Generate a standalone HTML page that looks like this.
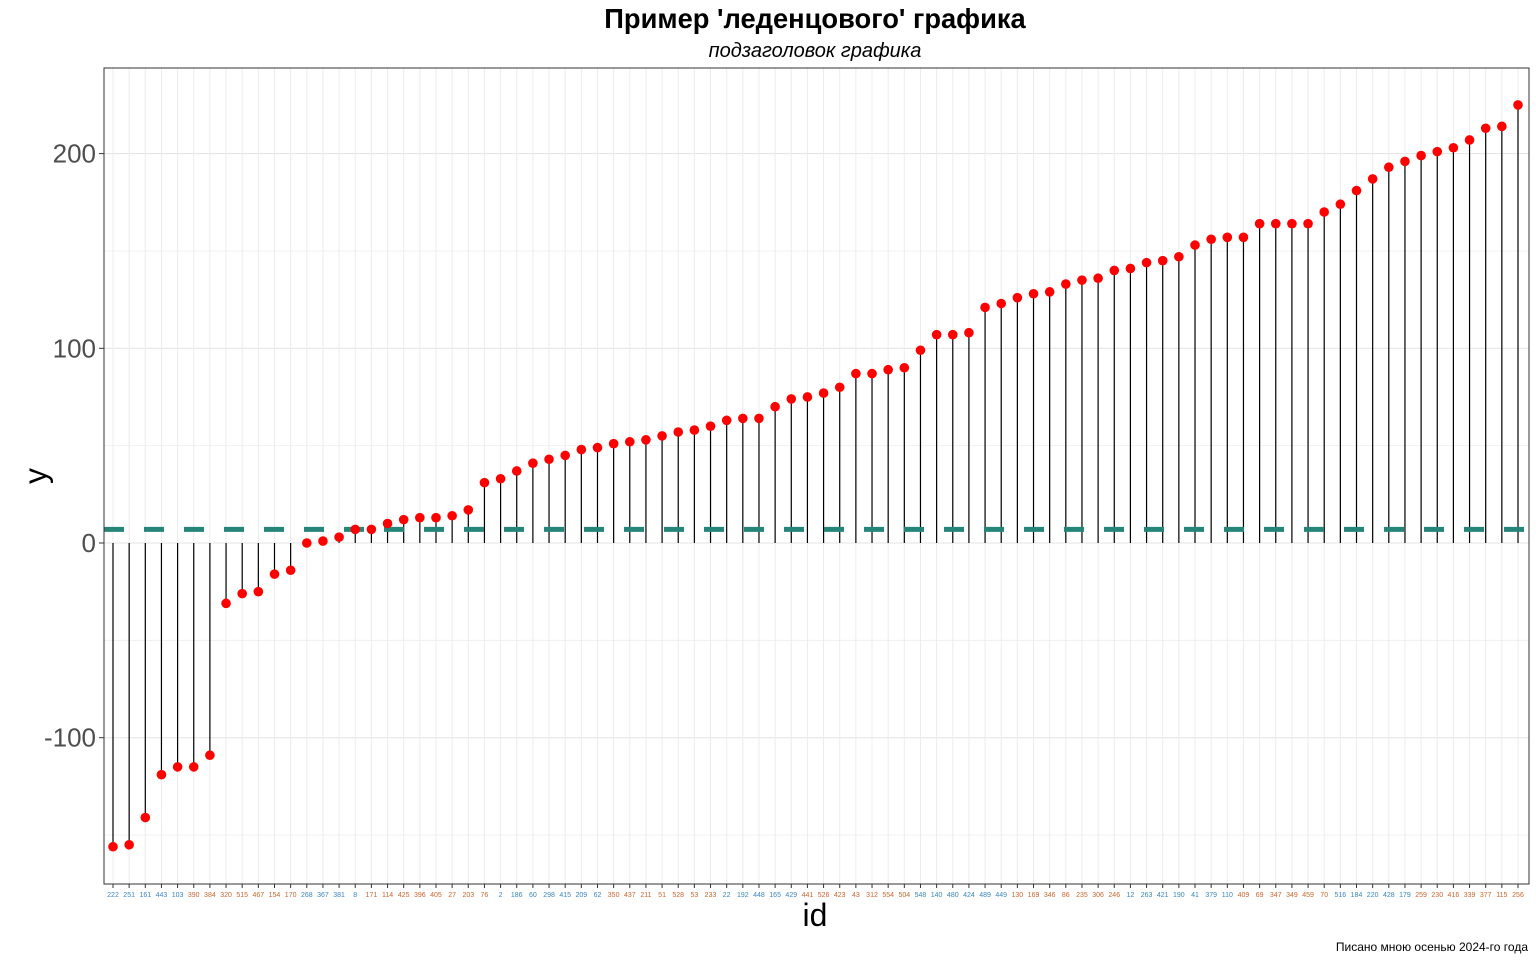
<!DOCTYPE html>
<html><head><meta charset="utf-8"><style>
body{margin:0;background:#fff;font-family:"Liberation Sans",sans-serif}
</style></head><body>
<svg id="chart" width="1536" height="960" xmlns="http://www.w3.org/2000/svg" font-family="Liberation Sans, DejaVu Sans, sans-serif">
<text x="815" y="28" text-anchor="middle" font-size="27.3" font-weight="bold">Пример 'леденцового' графика</text>
<text x="815" y="57" text-anchor="middle" font-size="20" font-style="italic">подзаголовок графика</text>
<g id="grid"></g><g id="marks"></g><g id="xticks"></g>
<rect x="104" y="68" width="1425" height="816" fill="none" stroke="#333" stroke-width="1"/>
<text x="38" y="476" text-anchor="middle" font-size="32" transform="rotate(-90 38 476)" dominant-baseline="middle">y</text>
<text x="815" y="926" text-anchor="middle" font-size="32">id</text>
<text x="1528" y="951" text-anchor="end" font-size="12">Писано мною осенью 2024-го года</text>
</svg>
<script>
const ids=[222,251,161,443,103,390,384,320,515,467,154,170,268,367,381,8,171,114,425,396,405,27,203,76,2,186,60,298,415,209,62,350,437,211,51,528,53,233,22,192,448,165,429,441,526,423,43,312,554,504,548,140,480,424,489,449,130,169,346,86,235,306,246,12,263,421,190,41,379,110,409,69,347,349,459,70,516,184,220,428,179,259,230,416,339,377,115,256];
const values=[-156,-155,-141,-119,-115,-115,-109,-31,-26,-25,-16,-14,0,1,3,7,7,10,12,13,13,14,17,31,33,37,41,43,45,48,49,51,52,53,55,57,58,60,63,64,64,70,74,75,77,80,87,87,89,90,99,107,107,108,121,123,126,128,129,133,135,136,140,141,144,145,147,153,156,157,157,164,164,164,164,170,174,181,187,193,196,199,201,203,207,213,214,225];
const meanValue=7;
const yTicks=[-100,0,100,200];
const yMinor=[-150,-50,50,150];
const NS="http://www.w3.org/2000/svg";
const X=i=>113+i*(1518-113)/(ids.length-1);
const Y=v=>543-v*1.947;
function mk(tag,attrs,parent){const e=document.createElementNS(NS,tag);for(const k in attrs)e.setAttribute(k,attrs[k]);parent.appendChild(e);return e;}
const grid=document.getElementById('grid'),marks=document.getElementById('marks'),xt=document.getElementById('xticks'),svg=document.getElementById('chart');
yMinor.forEach(v=>{const l=mk('line',{x1:104,x2:1529,y1:Y(v),y2:Y(v),stroke:'#f0f0f0','stroke-width':1},grid);

});
yTicks.forEach(v=>{const l=mk('line',{x1:104,x2:1529,y1:Y(v),y2:Y(v),stroke:'#e3e3e3','stroke-width':1},grid);


const t=mk('line',{x1:99,x2:104,y1:Y(v),y2:Y(v),stroke:'#333'},grid);


const tx=mk('text',{x:96,y:Y(v)+9,'text-anchor':'end','font-size':26,fill:'#4d4d4d'},grid);tx.textContent=v;

});
const orange=new Set([390,384,320,515,467,154,170,171,114,425,396,405,27,203,76,350,437,211,51,528,53,233,441,526,423,43,312,554,504,130,169,346,86,235,306,246,409,69,347,349,459,70,259,230,416,339,377,115,256]);
ids.forEach((id,i)=>{const x=X(i);
const g=mk('line',{x1:x,x2:x,y1:68,y2:884,stroke:'#ececec','stroke-width':1},grid);


const s=mk('line',{x1:x,x2:x,y1:Y(0),y2:Y(values[i]),stroke:'#000','stroke-width':1.2},marks);


const t=mk('line',{x1:x,x2:x,y1:884,y2:888,stroke:'#333'},xt);


const tx=mk('text',{x:x,y:897,'text-anchor':'middle','font-size':7,fill:orange.has(id)?'#c8662e':'#3a86c0'},xt);tx.textContent=id;

});
const ml=mk('line',{x1:104,x2:1529,y1:Y(meanValue),y2:Y(meanValue),stroke:'#268579','stroke-width':5,'stroke-dasharray':'20 20'},marks);


ids.forEach((id,i)=>{const c=mk('circle',{cx:X(i),cy:Y(values[i]),r:4.8,fill:'#ff0000'},marks);

});
</script>
</body></html>
